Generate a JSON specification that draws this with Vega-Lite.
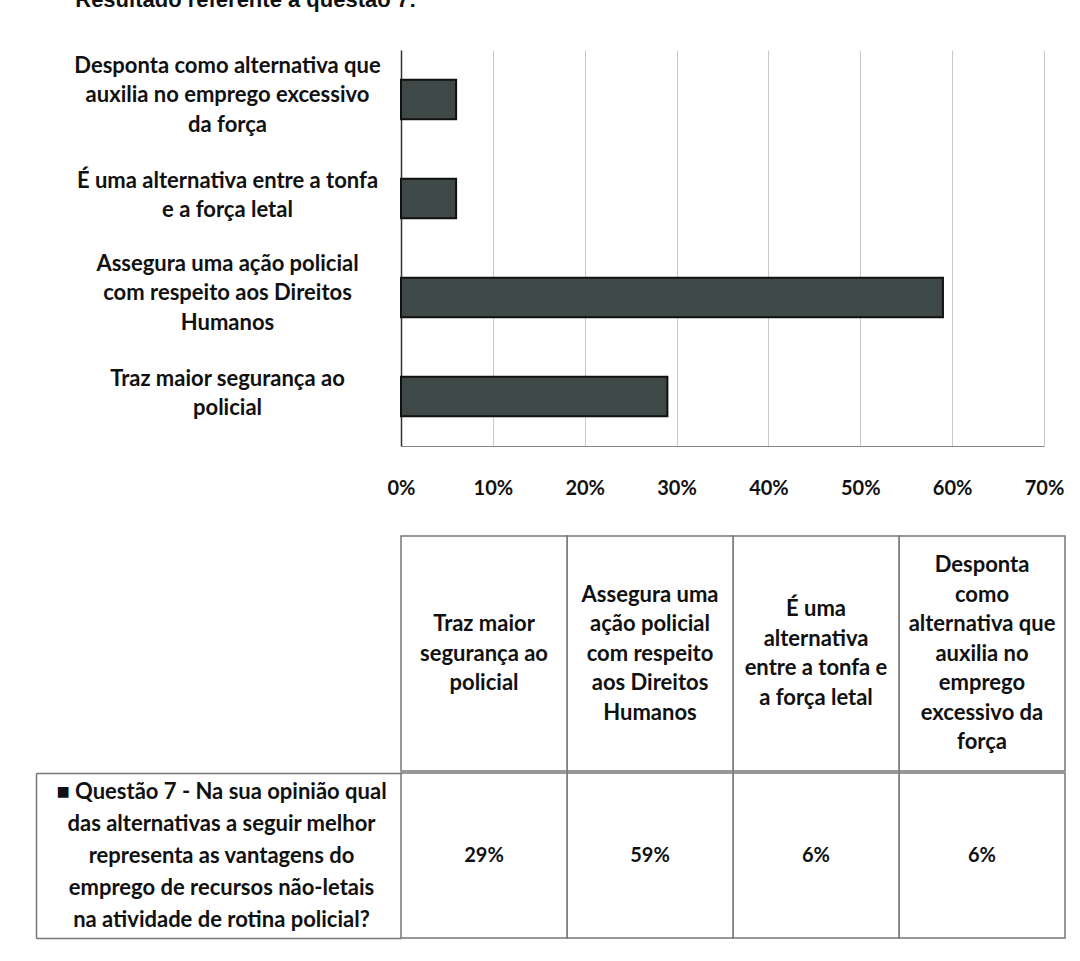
{
  "$schema": "https://vega.github.io/schema/vega-lite/v6.json",
  "background": "white",
  "padding": {"left": 35, "top": -11, "right": 10, "bottom": 10},
  "title": {"text": "Resultado referente à questão 7:", "anchor": "start", "font": "Liberation Sans", "fontSize": 22, "fontWeight": "bold", "color": "#111", "baseline": "top", "offset": 38, "dx": 40},
  "datasets": {
    "d": [
      {"alt": "Desponta como alternativa que auxilia no emprego excessivo da força", "pct": 0.06, "lab": "Desponta como alternativa que\nauxilia no emprego excessivo\nda força", "head": "Desponta\ncomo\nalternativa que\nauxilia no\nemprego\nexcessivo da\nforça"},
      {"alt": "É uma alternativa entre a tonfa e a força letal", "pct": 0.06, "lab": "É uma alternativa entre a tonfa\ne a força letal", "head": "É uma\nalternativa\nentre a tonfa e\na força letal"},
      {"alt": "Assegura uma ação policial com respeito aos Direitos Humanos", "pct": 0.59, "lab": "Assegura uma ação policial\ncom respeito aos Direitos\nHumanos", "head": "Assegura uma\nação policial\ncom respeito\naos Direitos\nHumanos"},
      {"alt": "Traz maior segurança ao policial", "pct": 0.29, "lab": "Traz maior segurança ao\npolicial", "head": "Traz maior\nsegurança ao\npolicial"}
    ]
  },
  "config": {
    "view": {"stroke": null},
    "concat": {"spacing": 0},
    "font": "Lato"
  },
  "spacing": 0,
  "vconcat": [
    {
      "width": 643,
      "height": 396,
      "data": {"name": "d"},
      "mark": {"type": "bar", "fill": "#3e4846", "stroke": "#111", "strokeWidth": 2},
      "encoding": {
        "y": {
          "field": "lab", "type": "nominal",
          "sort": ["Desponta como alternativa que\nauxilia no emprego excessivo\nda força", "É uma alternativa entre a tonfa\ne a força letal", "Assegura uma ação policial\ncom respeito aos Direitos\nHumanos", "Traz maior segurança ao\npolicial"],
          "scale": {"paddingInner": 0.6, "paddingOuter": 0.3},
          "axis": {
            "title": null, "ticks": false, "tickSize": 0, "domain": true, "domainColor": "#333", "domainWidth": 1.5,
            "labelExpr": "split(datum.label, '\\n')",
            "labelOffset": {"condition": {"test": "length(split(datum.value, '\\n')) == 3", "value": -34}, "value": -18},
            "labelFont": "Lato", "labelFontWeight": "bold", "labelFontSize": 22, "labelLineHeight": 29.5,
            "labelColor": "#111", "labelAlign": "center", "labelBaseline": "middle", "labelPadding": 174, "labelLimit": 400,
            "minExtent": 365, "maxExtent": 365
          }
        },
        "x": {
          "field": "pct", "type": "quantitative",
          "scale": {"domain": [0, 0.7], "nice": false},
          "axis": {
            "title": null, "values": [0, 0.1, 0.2, 0.3, 0.4, 0.5, 0.6, 0.7], "format": ".0%",
            "grid": true, "gridColor": "#c8c8c8", "gridWidth": 1,
            "ticks": false, "tickSize": 0, "domain": true, "domainColor": "#888",
            "labelFont": "Lato", "labelFontWeight": "bold", "labelFontSize": 20, "labelColor": "#111",
            "labelPadding": 32, "labelFlush": false,
            "minExtent": 89, "maxExtent": 89
          }
        }
      }
    },
    {
      "width": 664, "height": 235,
      "data": {"name": "d"},
      "encoding": {
        "x": {"field": "alt", "type": "nominal",
              "sort": ["Traz maior segurança ao policial", "Assegura uma ação policial com respeito aos Direitos Humanos", "É uma alternativa entre a tonfa e a força letal", "Desponta como alternativa que auxilia no emprego excessivo da força"],
              "scale": {"paddingInner": 0, "paddingOuter": 0}, "axis": null}
      },
      "layer": [
        {"mark": {"type": "rect", "fill": "white", "stroke": "#777", "strokeWidth": 1.5}},
        {"mark": {"type": "text", "lineBreak": "\n", "font": "Lato", "fontWeight": "bold", "fontSize": 22, "lineHeight": 29.5, "color": "#111", "align": "center", "baseline": "middle",
                  "dy": {"expr": "-(length(split(datum.head, '\\n')) - 1) * 14.75"}},
         "encoding": {"text": {"field": "head"}}}
      ]
    },
    {
      "width": 664, "height": 165,
      "data": {"name": "d"},
      "encoding": {
        "x": {"field": "alt", "type": "nominal",
              "sort": ["Traz maior segurança ao policial", "Assegura uma ação policial com respeito aos Direitos Humanos", "É uma alternativa entre a tonfa e a força letal", "Desponta como alternativa que auxilia no emprego excessivo da força"],
              "scale": {"paddingInner": 0, "paddingOuter": 0}, "axis": null}
      },
      "layer": [
        {"mark": {"type": "rect", "fill": "white", "stroke": "#777", "strokeWidth": 1.5}},
        {"mark": {"type": "text", "font": "Lato", "fontWeight": "bold", "fontSize": 20, "color": "#111", "align": "center", "baseline": "middle"},
         "encoding": {
           "text": {"field": "pct", "type": "quantitative", "format": ".0%"},
           "y": {"datum": 0.5, "type": "quantitative", "scale": {"domain": [0, 1], "nice": false},
                 "axis": {
                   "title": null, "values": [0, 0.5, 1], "offset": 365, "grid": false,
                   "domain": true, "domainColor": "#777", "domainWidth": 1.5,
                   "ticks": true, "tickSize": -365, "tickWidth": 1.5,
                   "tickColor": {"condition": {"test": "datum.value == 0.5", "value": "transparent"}, "value": "#777"},
                   "labelExpr": "datum.value == 0.5 ? ['■ Questão 7 - Na sua opinião qual', 'das alternativas a seguir melhor', 'representa as vantagens do', 'emprego de recursos não-letais', 'na atividade de rotina policial?'] : ''",
                   "labelOffset": -64,
                   "labelPadding": 180, "labelAlign": "center", "labelBaseline": "middle",
                   "labelFont": "Lato", "labelFontWeight": "bold", "labelFontSize": 22, "labelLineHeight": 32,
                   "labelColor": "#111", "labelLimit": 400
                 }}
         }}
      ]
    }
  ]
}
